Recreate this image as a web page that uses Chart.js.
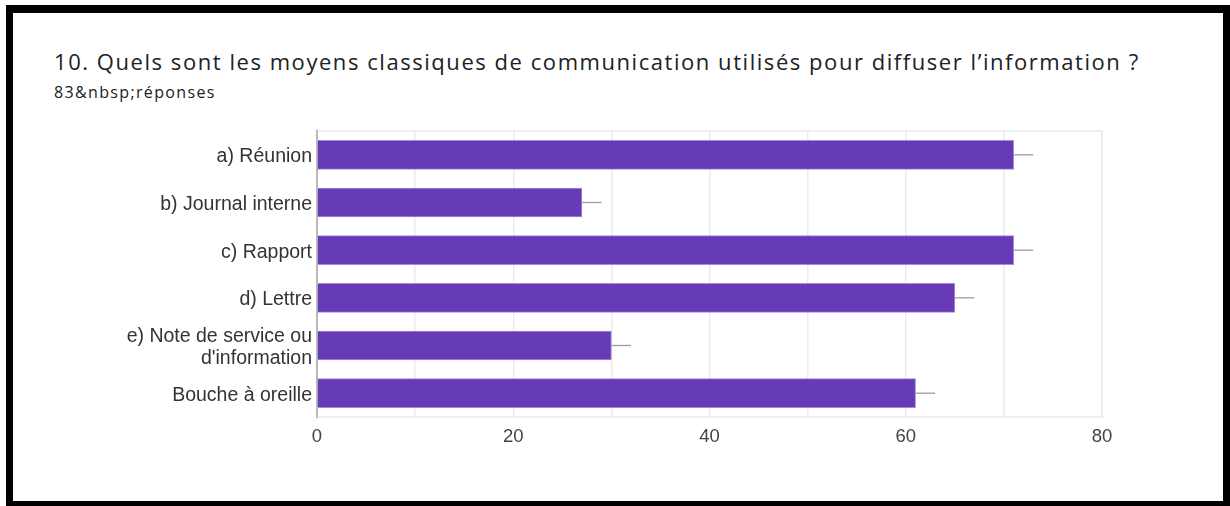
<!DOCTYPE html>
<html>
<head>
<meta charset="utf-8">
<script src="https://cdn.jsdelivr.net/npm/chart.js@4.4.1/dist/chart.umd.min.js"></script>
<style>
  html, body { margin: 0; padding: 0; background: #fff; }
  body { width: 1230px; height: 506px; position: relative; overflow: hidden; }
  .frame {
    position: absolute; left: 6px; top: 5px; width: 1224px; height: 501px;
    box-sizing: border-box; border-style: solid; border-color: #000;
    border-width: 8px 7px 5px 7px; pointer-events: none; z-index: 2;
  }
  .title {
    position: absolute; left: 54px; top: 50px; white-space: nowrap;
    font-family: "Open Sans", sans-serif; font-size: 22px; line-height: 22px;
    letter-spacing: 1.55px; color: #202124;
  }
  .subtitle {
    position: absolute; left: 54px; top: 84px; white-space: nowrap;
    font-family: "Open Sans", sans-serif; font-size: 16px; line-height: 16px;
    letter-spacing: 1.35px; color: #202124;
  }
  #chart { position: absolute; left: 0; top: 0; }
</style>
</head>
<body>
<div class="frame"></div>
<div class="title">10. Quels sont les moyens classiques de communication utilisés pour diffuser l’information ?</div>
<div class="subtitle">83&amp;nbsp;réponses</div>
<canvas id="chart" width="1230" height="506"></canvas>
<script>
const categories = [
  'a) Réunion',
  'b) Journal interne',
  'c) Rapport',
  'd) Lettre',
  ['e) Note de service ou', "d'information"],
  'Bouche à oreille'
];
const responses = [71, 27, 71, 65, 30, 61];
const xTickLabels = [0, 20, 40, 60, 80];

// short grey stub to the right of each bar, plus the light frame round the plot
const plotDecor = {
  id: 'plotDecor',
  beforeDatasetsDraw(chart) {
    const { ctx, chartArea: a } = chart;
    ctx.save();
    ctx.strokeStyle = '#ebebeb';
    ctx.lineWidth = 1.5;
    ctx.strokeRect(a.left, a.top, a.right - a.left, a.bottom - a.top);
    ctx.restore();
  },
  afterDatasetsDraw(chart) {
    const { ctx } = chart;
    const xs = chart.scales.x;
    const meta = chart.getDatasetMeta(0);
    ctx.save();
    ctx.strokeStyle = '#9e9e9e';
    ctx.lineWidth = 1.3;
    meta.data.forEach((bar, i) => {
      ctx.beginPath();
      ctx.moveTo(bar.x, bar.y);
      ctx.lineTo(xs.getPixelForValue(responses[i] + 2), bar.y);
      ctx.stroke();
    });
    ctx.restore();
  }
};

new Chart(document.getElementById('chart'), {
  type: 'bar',
  data: {
    labels: categories,
    datasets: [{
      data: responses,
      backgroundColor: '#673ab7',
      borderColor: '#a58bd8',
      borderWidth: 1,
      borderSkipped: 'start',
      barThickness: 29
    }]
  },
  options: {
    indexAxis: 'y',
    responsive: false,
    animation: false,
    layout: { padding: { top: 131, right: 128 } },
    plugins: { legend: { display: false }, tooltip: { enabled: false } },
    scales: {
      x: {
        min: 0,
        max: 80,
        afterFit(scale) { scale.height = 89; },
        ticks: {
          stepSize: 10,
          padding: 9,
          color: '#444',
          font: { family: 'Liberation Sans, Arial, sans-serif', size: 18.5 },
          callback: v => xTickLabels.includes(v) ? v : ''
        },
        grid: { color: '#ebebeb', lineWidth: 1.5, drawTicks: false },
        border: { display: false }
      },
      y: {
        afterFit(scale) { scale.width = 317; },
        ticks: {
          padding: 5,
          labelOffset: 2,
          color: '#333',
          font: { family: 'Liberation Sans, Arial, sans-serif', size: 19.5, lineHeight: 1.13 }
        },
        grid: { display: false, drawTicks: false },
        border: { color: '#222', width: 2 }
      }
    }
  },
  plugins: [plotDecor]
});
</script>
</body>
</html>
